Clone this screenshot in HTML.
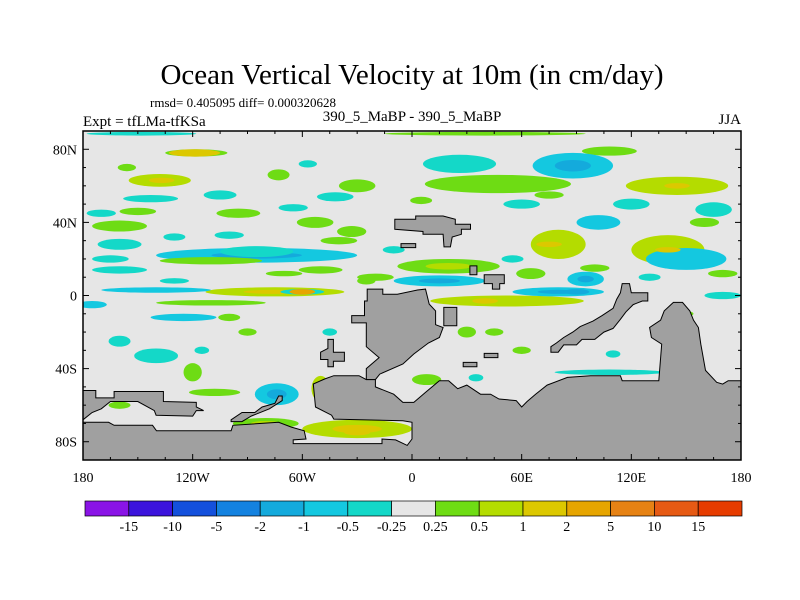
<!DOCTYPE html>
<html><head><meta charset="utf-8">
<style>
html,body{margin:0;padding:0;background:#fff;}
svg{display:block;}
text{font-family:"Liberation Serif",serif;fill:#000;}
</style></head>
<body>
<svg id="chart" width="800" height="600" viewBox="0 0 800 600" xmlns="http://www.w3.org/2000/svg">
<text x="412" y="84" font-size="29" text-anchor="middle">Ocean Vertical Velocity at 10m (in cm/day)</text>
<text x="150" y="107" font-size="13">rmsd= 0.405095 diff= 0.000320628</text>
<text x="83" y="126" font-size="15">Expt = tfLMa-tfKSa</text>
<text x="412" y="121" font-size="15" text-anchor="middle">390_5_MaBP - 390_5_MaBP</text>
<text x="741" y="124" font-size="15" text-anchor="end">JJA</text>
<defs><clipPath id="pc"><rect x="83" y="131" width="658" height="329"/></clipPath></defs>
<rect x="83" y="131" width="658" height="329" fill="#e6e6e6"/>
<g id="blobs" clip-path="url(#pc)"></g>
<g id="land" clip-path="url(#pc)"></g>
<g id="axes"></g>
<g id="cbar"></g>
</svg>
<script>
const blobLon=[-118,-148,40,-119,108,88,26,-156,-138,-73,-30,-57,-42,-143,-105,47,145,165,-85,-53,-33,-160,-160,-85,-110,20,15,80,140,102,150,-75,-140,-60,52,-15,80,95,-175,-110,-125,-160,-120,-140,-74,-50,-108,108,8,-30,-80,-100,-160,-50,65,-20,170,-130,30,
 -95,-65,-40,-10,5,60,75,120,160,-170,-150,-100,-70,-130,-25,55,100,130,170,-165,-90,-115,45,150,110,-5,-45,-160,35,60];
const blobLat=[78,88.5,88.5,78,79,71,72,70,63,66,60,72,54,53,55,61,60,47,22,40,35,38,28,24,19,16,8,28,25,40,20,2,3,2,-3,-2,2,9,-5,-4,-12,-25,-42,-33,-54,-51,-53,-42,-46,-73,-70,-12,14,14,12,10,0,32,-20,
 45,48,30,25,52,50,55,50,40,45,46,33,12,8,8,20,15,10,12,20,-20,-30,-20,-10,-32,-8,-20,-60,-45,-30];
const blobRx=[17,30,55,14,15,22,20,5,17,6,10,5,10,15,9,40,28,10,55,10,8,15,12,20,28,28,25,15,20,12,22,38,30,12,42,8,25,10,8,30,18,6,5,12,12,5,14,30,8,30,18,6,15,12,8,10,10,6,5,
 12,8,10,6,6,10,8,10,8,8,10,8,10,8,5,6,8,6,8,10,5,4,5,4,4,3,4,6,4,5];
const blobRy=[2,1,1,2,2.5,7,5,2,3.5,3,3.5,2,2.5,2,2.5,5,5,4,4,3,3,3,3,3,2,4,3,8,8,4,6,2.5,1.5,1.5,3,2,2.5,4,2,1.5,2,3,5,4,6,7,2,1.5,3,5,3,2,2,2,3,2,2,2,3,
 2.5,2,2,2,2,2.5,2,3,2.5,2,2,2,1.5,1.5,2,2,2,2,2,2,2,2,2,1.5,2,1.5,2,2,2,2];
const blobVal=[0.4,-0.4,0.4,1.2,0.4,-0.7,-0.4,0.4,0.6,0.4,0.4,-0.4,-0.4,-0.4,-0.4,0.4,0.6,-0.4,-0.6,0.4,0.4,0.4,-0.4,-0.4,0.4,0.5,-0.7,0.6,0.6,-0.5,-0.5,0.8,-0.5,-0.4,0.6,0.6,-0.7,-0.6,-0.5,0.4,-0.5,-0.4,0.4,-0.4,-0.6,0.8,0.4,-0.4,0.4,0.7,0.5,0.4,-0.4,0.4,0.4,0.4,-0.4,-0.4,0.4,
 0.4,-0.4,0.4,-0.4,0.4,-0.4,0.4,-0.4,0.4,-0.4,0.4,-0.4,0.4,-0.4,0.4,-0.4,0.4,-0.4,0.4,-0.4,0.4,-0.4,0.4,0.4,-0.4,0.4,-0.4,0.4,-0.4,0.4];
const coreLon=[-60,40,90,140,-137,145,-30,75];
const coreLat=[2,-3,2,25,63,60,-75,28];
const coreVal=[3,1.5,-1.5,1.5,1.5,1.5,1.5,1.5];
const levels=[-15,-10,-5,-2,-1,-0.5,-0.25,0.25,0.5,1,2,5,10,15];
const colors=["#8a14e6","#3c14dc","#1450dc","#1482e0","#14aadc","#14c8e0","#14d8c8","#e6e6e6","#6edc14","#b4dc00","#dcc800","#e6a500","#e68214","#e65a14","#e63c00"];
const cbLabels=["-15","-10","-5","-2","-1","-0.5","-0.25","0.25","0.5","1","2","5","10","15"];
const lonTicks=[-180,-120,-60,0,60,120,180];
const lonLabels=["180","120W","60W","0","60E","120E","180"];
const latTicks=[80,40,0,-40,-80];
const latLabels=["80N","40N","0","40S","80S"];
const land=[
[[-24.5,3.5],[-16,3.5],[-16,0.7],[-8,0.7],[3,3],[7.4,3.5],[9.4,-4.7],[12.9,-8.4],[12.9,-16],[17,-17.5],[15,-23],[9,-26],[1,-32],[-5,-37.5],[-17.6,-43],[-20,-46],[-25,-46],[-25,-40],[-18,-34],[-25,-28],[-25,-15],[-33,-15],[-33,-11],[-26,-11],[-26,-3],[-24.5,-3]],
[[-54,-48.4],[-47.8,-45.7],[-42.8,-43.9],[-29,-43.9],[-25,-46],[-20,-46],[-20,-50],[-10,-54],[-5,-58.5],[1,-58.5],[7.4,-53],[15,-46.6],[20,-46.6],[25,-51],[30,-49],[37.5,-54],[43,-54],[47.6,-56.6],[57,-57.5],[60,-61],[63,-58],[67.6,-54],[73.9,-49],[85,-44.8],[97.7,-43.9],[114,-43.9],[115,-46.6],[135,-46.6],[136.6,-26.6],[131,-23],[130,-17.5],[136,-13.5],[138,-8.4],[143,-3.8],[148,-3.8],[152,-8.4],[154,-13.5],[156.7,-17.5],[158,-26.6],[160.6,-41],[166.7,-47.5],[170,-48.5],[173,-46.6],[180,-46.6],[180,-90],[-180,-90],[-180,-69.4],[-166,-69.4],[-163,-71],[-142,-71],[-139.8,-74],[-99,-74],[-98,-71],[-73,-69.4],[-66,-72],[-59,-74],[-58,-78.5],[-65,-79],[-65,-81],[-16.4,-81],[-16.4,-78.5],[-9,-79],[-2.6,-82],[0,-78.5],[0,-69.4],[-5,-68.5],[-42.8,-67.6],[-44,-65.5],[-52.8,-61]],
[[76,-28],[76,-31],[80,-31],[83,-27],[90,-27],[93,-24],[100,-24],[105,-20],[110,-18],[114,-13],[117,-9],[121,-5],[126,-3],[129,-3],[129,1.5],[120,1.5],[119,6.5],[115,6.5],[114,1.5],[112,-2],[110,-7],[104,-11],[99,-14],[92,-17],[88,-20],[83,-23],[79,-26]],
[[-9.4,41.7],[2,41.7],[2,43.5],[17,43.5],[23.7,41.7],[23.7,39],[32,39],[32,36.2],[27,36.2],[27,33.5],[22,32],[21,26.6],[17.5,26.6],[17,33.5],[6,33.5],[6,35],[-9.4,36.2]],
[[-6,28.4],[2,28.4],[2,26.2],[-6,26.2]],
[[31.7,16.2],[35.5,16.2],[35.5,11.3],[31.7,11.3]],
[[39.5,11.3],[50.5,11.3],[50.5,6.5],[48,6.5],[48,3.5],[44,3.5],[44,6.5],[39.5,6.5]],
[[17.4,-6.5],[24.5,-6.5],[24.5,-16.6],[17.4,-16.6]],
[[-46,-24],[-43,-24],[-43,-31],[-37,-31],[-37,-36],[-43,-36],[-43,-39],[-46,-39],[-46,-35],[-50,-35],[-50,-31],[-46,-29]],
[[39.5,-31.7],[47,-31.7],[47,-34],[39.5,-34]],
[[28,-36.6],[35.5,-36.6],[35.5,-39],[28,-39]],
[[-180,-52],[-173,-52],[-173,-56],[-163,-56],[-163,-52.5],[-136,-52.5],[-136,-58],[-118,-58.5],[-118,-61],[-114,-63],[-118,-63],[-120,-66],[-140,-65.5],[-141,-63],[-150,-58],[-165,-58],[-170,-62],[-175,-64],[-180,-68]],
[[-99,-68],[-93,-64],[-86,-64],[-82,-61],[-75,-59],[-73,-55],[-71,-55],[-71,-57.5],[-78,-62],[-88,-66],[-93,-69],[-99,-69]]
];
const NS="http://www.w3.org/2000/svg";
const X=lon=>83+(lon+180)*658/360;
const Y=lat=>131+(90-lat)*329/180;
const SX=d=>d*658/360, SY=d=>d*329/180;
function colorFor(v){let i=0;while(i<levels.length&&v>levels[i])i++;return colors[i];}
function mk(tag,parent,attrs){const e=document.createElementNS(NS,tag);for(const k in attrs)e.setAttribute(k,attrs[k]);parent.appendChild(e);return e;}
const gb=document.getElementById('blobs');
blobLon.forEach((lon,i)=>{
 const e=mk('ellipse',gb,{cx:X(lon),cy:Y(blobLat[i]),rx:SX(blobRx[i]),ry:SY(blobRy[i]),fill:colorFor(blobVal[i])});
 
 
 if(Math.abs(blobVal[i])>=0.5){
  const c=mk('ellipse',gb,{cx:X(lon),cy:Y(blobLat[i]),rx:SX(blobRx[i])*0.45,ry:SY(blobRy[i])*0.45,fill:colorFor(blobVal[i]>0?blobVal[i]+0.4:blobVal[i]-0.4)});
  
  
 }
});
coreLon.forEach((lon,i)=>{
 const e=mk('ellipse',gb,{cx:X(lon),cy:Y(coreLat[i]),rx:SX(7),ry:SY(1.5),fill:colorFor(coreVal[i])});
 
 
});
const gl=document.getElementById('land');
land.forEach(poly=>{
 const p=mk('polygon',gl,{points:poly.map(q=>X(q[0]).toFixed(1)+','+Y(q[1]).toFixed(1)).join(' '),fill:'#a0a0a0',stroke:'#000','stroke-width':1});
 
 
});
const ga=document.getElementById('axes');
const fr=mk('rect',ga,{x:83,y:131,width:658,height:329,fill:'none',stroke:'#000','stroke-width':1.5});


for(let lon=-180;lon<=180;lon+=15){const m=lon%60===0?6:3;
 mk('line',ga,{x1:X(lon),x2:X(lon),y1:460,y2:460-m,stroke:'#000'});
 mk('line',ga,{x1:X(lon),x2:X(lon),y1:131,y2:131+m,stroke:'#000'});}
for(let lat=-90;lat<=90;lat+=10){const m=lat%40===0?6:3;
 mk('line',ga,{x1:83,x2:83+m,y1:Y(lat),y2:Y(lat),stroke:'#000'});
 mk('line',ga,{x1:741,x2:741-m,y1:Y(lat),y2:Y(lat),stroke:'#000'});}
lonTicks.forEach((lon,i)=>{const t=mk('text',ga,{x:X(lon),y:482,'font-size':14,'text-anchor':'middle'});t.textContent=lonLabels[i];
 
 });
latTicks.forEach((lat,i)=>{const t=mk('text',ga,{x:77,y:Y(lat)+5,'font-size':14,'text-anchor':'end'});t.textContent=latLabels[i];
 
 });
const gc=document.getElementById('cbar');
const bw=(742-85)/colors.length;
colors.forEach((c,i)=>{const r=mk('rect',gc,{x:85+i*bw,y:501,width:bw,height:15,fill:c,stroke:'#000','stroke-width':0.7});
 
 });
cbLabels.forEach((s,i)=>{const t=mk('text',gc,{x:85+(i+1)*bw,y:531,'font-size':14,'text-anchor':'middle'});t.textContent=s;
 
 });
</script>
</body></html>
